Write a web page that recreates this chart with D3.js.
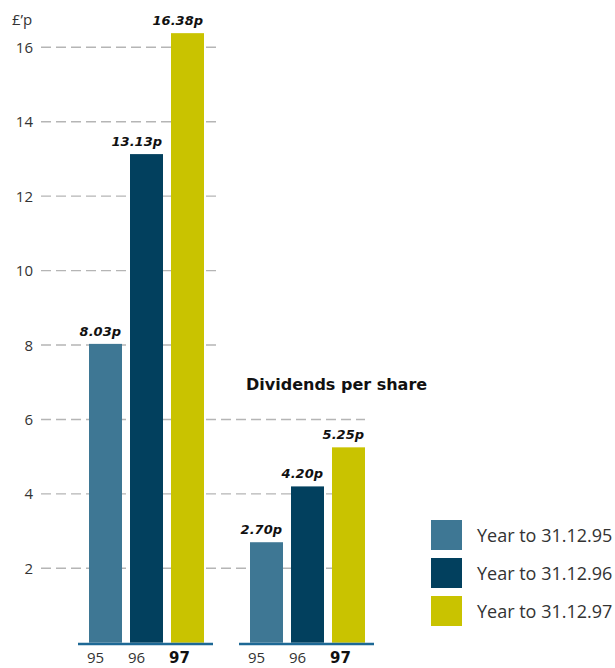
<!DOCTYPE html>
<html><head><meta charset="utf-8">
<script src="https://cdn.jsdelivr.net/npm/d3@7"></script>
<style>
html,body{margin:0;padding:0;background:#fff;}
svg{display:block;}
</style></head>
<body>
<script>
const years = ["95", "96", "97"];
const earningsPerShare = [8.03, 13.13, 16.38];
const dividendsPerShare = [2.70, 4.20, 5.25];
const valueLabelsEPS = ["8.03p", "13.13p", "16.38p"];
const valueLabelsDPS = ["2.70p", "4.20p", "5.25p"];
const yTicks = [2, 4, 6, 8, 10, 12, 14, 16];
const legendLabels = ["Year to 31.12.95", "Year to 31.12.96", "Year to 31.12.97"];
const seriesColors = ["#3e7794", "#02405e", "#c9c300"];
const unitLabel = "£’p";
const subTitle = "Dividends per share";

const W = 615, H = 668;
const svg = d3.select("body").append("svg").attr("width", W).attr("height", H);

const y = d3.scaleLinear().domain([0, 16]).range([642.7, 47.3]);

const x1 = d3.scaleBand().domain(years).range([85, 208]).paddingInner(8/41).paddingOuter(4/41);
const x2 = d3.scaleBand().domain(years).range([246, 369]).paddingInner(8/41).paddingOuter(4/41);

const font = "'Open Sans', 'DejaVu Sans', sans-serif";
const boldFont = "'DejaVu Sans', 'Liberation Sans', sans-serif";

// gridlines
svg.append("g").selectAll("line").data(yTicks).join("line")
  .attr("x1", 41)
  .attr("x2", d => d > 6 ? 220 : 365)
  .attr("y1", d => y(d)).attr("y2", d => y(d))
  .attr("stroke", "#b5b5b5").attr("stroke-width", 1.4)
  .attr("stroke-dasharray", "10,5");

// y tick labels
svg.append("g").selectAll("text").data(yTicks).join("text")
  .attr("x", 33).attr("y", d => y(d) + 5.5)
  .attr("text-anchor", "end")
  .attr("font-family", font).attr("font-size", 15).attr("fill", "#333")
  .text(d => d);

svg.append("text").attr("x", 12).attr("y", 25)
  .attr("font-family", font).attr("font-size", 15).attr("fill", "#333")
  .text(unitLabel);

function drawGroup(xs, values, labels, baseFrom, baseTo) {
  const g = svg.append("g");
  g.selectAll("rect").data(values).join("rect")
    .attr("x", (d, i) => xs(years[i]))
    .attr("width", xs.bandwidth())
    .attr("y", d => y(d))
    .attr("height", d => y(0) - y(d))
    .attr("fill", (d, i) => seriesColors[i]);
  g.selectAll("text.v").data(values).join("text").attr("class", "v")
    .attr("x", (d, i) => xs(years[i]) + xs.bandwidth() - 1)
    .attr("y", d => y(d) - 8)
    .attr("text-anchor", "end")
    .attr("font-family", boldFont).attr("font-weight", "bold").attr("font-style", "italic")
    .attr("font-size", 13).attr("fill", "#111")
    .text((d, i) => labels[i]);
  g.append("line")
    .attr("x1", baseFrom).attr("x2", baseTo)
    .attr("y1", y(0) + 1.2).attr("y2", y(0) + 1.2)
    .attr("stroke", "#1d6895").attr("stroke-width", 2.5);
  g.selectAll("text.c").data(years).join("text").attr("class", "c")
    .attr("x", d => xs(d) - 2)
    .attr("y", 663)
    .attr("text-anchor", "start")
    .attr("font-family", (d, i) => i === 2 ? boldFont : font)
    .attr("font-weight", (d, i) => i === 2 ? "bold" : "normal")
    .attr("font-size", 15).attr("fill", (d, i) => i === 2 ? "#111" : "#333")
    .text(d => d);
}

drawGroup(x1, earningsPerShare, valueLabelsEPS, 78, 213);
drawGroup(x2, dividendsPerShare, valueLabelsDPS, 239, 374);

svg.append("text").attr("x", 246).attr("y", 390)
  .attr("font-family", boldFont).attr("font-weight", "bold")
  .attr("font-size", 16).attr("fill", "#111")
  .text(subTitle);

// legend
const lg = svg.append("g");
legendLabels.forEach((lab, i) => {
  lg.append("rect").attr("x", 431).attr("y", 520 + i * 38)
    .attr("width", 31).attr("height", 30).attr("fill", seriesColors[i]);
  lg.append("text").attr("x", 477).attr("y", 541.5 + i * 38)
    .attr("font-family", font).attr("font-size", 18).attr("fill", "#333")
    .text(lab);
});
</script>
</body></html>
